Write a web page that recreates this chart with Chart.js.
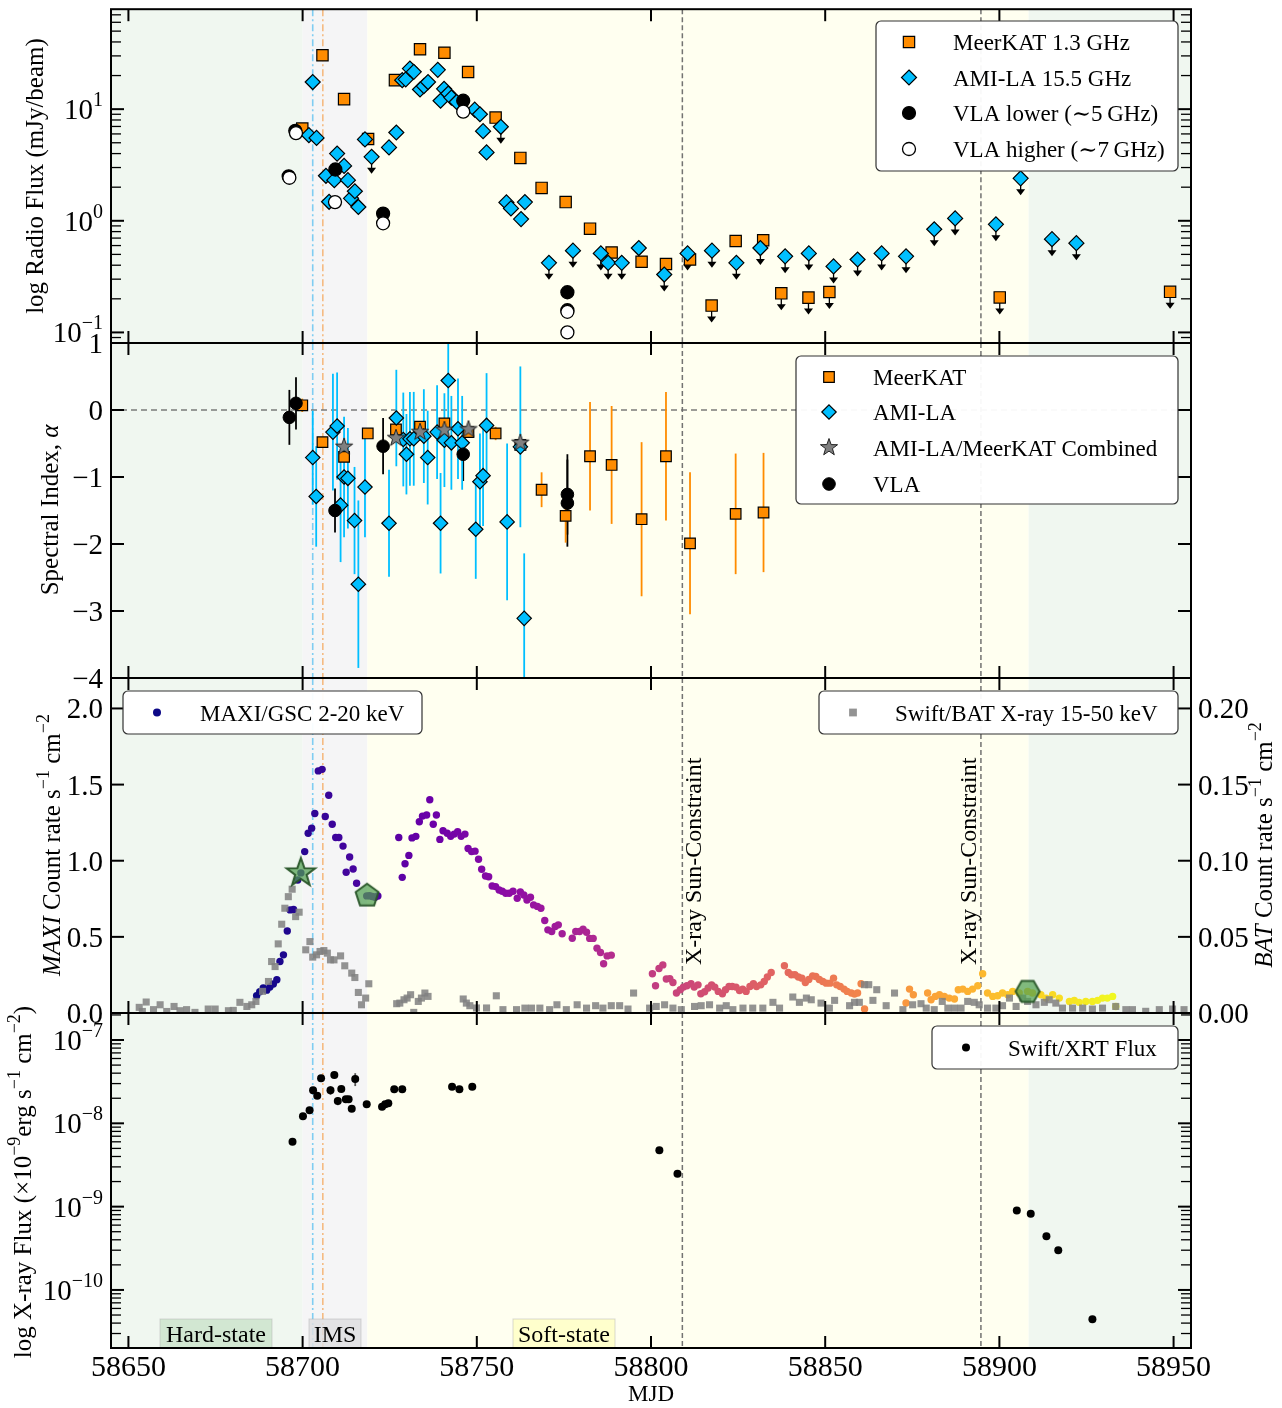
<!DOCTYPE html>
<html>
<head>
<meta charset="utf-8">
<script src="https://cdn.jsdelivr.net/npm/chart.js@4.4.1/dist/chart.umd.min.js"></script>
<style>
  body { margin: 0; background: #fff; }
  #wrap { position: relative; width: 1282px; height: 1408px; }
  #wrap canvas { position: absolute; left: 0; top: 0; }
</style>
</head>
<body>
<div id="wrap">
  <canvas id="p1" width="1282" height="1408"></canvas>
  <canvas id="p2" width="1282" height="1408"></canvas>
  <canvas id="p3" width="1282" height="1408"></canvas>
  <canvas id="p4" width="1282" height="1408"></canvas>
</div>
<script>
// ---------------- data ----------------
const X_MIN = 58645, X_MAX = 58955;
const xTicks = [58650, 58700, 58750, 58800, 58850, 58900, 58950];

// spectral state boundaries and marker lines (MJD)
const hardEnd = 58700, imsEnd = 58718.6, softEnd = 58908.4;
const blueLine = 58702.9, orangeLine = 58705.8;
const sunLines = [58809.0, 58894.7];

// panel 1: radio flux density, mJy/beam  [MJD, flux, upper limit?]
const meerkatFlux = [
  [58699.9, 6.7, 0], [58705.7, 30.4, 0], [58711.9, 12.3, 0], [58718.8, 5.4, 0], [58726.5, 18.2, 0],
  [58733.7, 34.4, 0], [58740.7, 32.0, 0], [58747.5, 21.5, 0], [58755.4, 8.4, 0], [58762.5, 3.66, 0],
  [58768.6, 1.97, 0], [58775.5, 1.47, 0], [58782.5, 0.85, 0], [58788.7, 0.52, 0], [58797.3, 0.43, 0],
  [58804.3, 0.41, 0], [58811.2, 0.45, 0], [58817.4, 0.174, 1], [58824.3, 0.66, 0], [58832.2, 0.67, 0],
  [58837.4, 0.224, 1], [58845.2, 0.205, 1], [58851.2, 0.23, 1], [58900.1, 0.206, 1], [58949.0, 0.231, 1]
];
const amiFlux = [
  [58701.8, 5.85, 0], [58702.9, 17.5, 0], [58704.0, 5.53, 0], [58706.7, 2.53, 0], [58707.6, 1.48, 0],
  [58709.1, 2.31, 0], [58709.9, 4.0, 0], [58711.9, 3.1, 0], [58713.0, 2.31, 0], [58713.9, 1.59, 0],
  [58715.0, 1.84, 0], [58716.0, 1.33, 0], [58717.9, 5.36, 0], [58719.8, 3.74, 1], [58724.8, 4.54, 0],
  [58726.9, 6.18, 0], [58728.6, 18.2, 0], [58729.6, 18.5, 0], [58730.8, 23.1, 0], [58731.9, 21.6, 0],
  [58733.7, 15.0, 0], [58734.8, 16.1, 0], [58736.0, 17.5, 0], [58738.8, 22.5, 0], [58739.6, 11.9, 0],
  [58740.6, 15.2, 0], [58741.8, 13.8, 0], [58742.7, 12.7, 0], [58744.2, 11.6, 0], [58749.4, 9.9, 0],
  [58750.9, 9.0, 0], [58751.8, 6.35, 0], [58752.8, 4.1, 0], [58756.9, 6.95, 1], [58758.5, 1.46, 0],
  [58759.8, 1.29, 0], [58762.7, 1.035, 0], [58763.8, 1.47, 0], [58770.7, 0.42, 1], [58777.6, 0.54, 1],
  [58785.6, 0.51, 1], [58787.7, 0.42, 1], [58791.6, 0.42, 1], [58796.5, 0.57, 0], [58803.8, 0.33, 1],
  [58810.5, 0.51, 1], [58817.5, 0.54, 1], [58824.5, 0.42, 1], [58831.4, 0.57, 1], [58838.5, 0.48, 1],
  [58845.3, 0.51, 1], [58852.4, 0.39, 1], [58859.3, 0.45, 1], [58866.2, 0.51, 1], [58873.2, 0.48, 1],
  [58881.3, 0.84, 1], [58887.3, 1.05, 1], [58899.0, 0.93, 1], [58906.1, 2.4, 1], [58915.1, 0.685, 1],
  [58922.1, 0.63, 1]
];
const vlaLowFlux = [
  [58696.0, 2.5], [58697.9, 6.4], [58709.4, 2.88], [58723.1, 1.16], [58746.1, 11.9], [58776.0, 0.229], [58776.0, 0.158]
];
const vlaHighFlux = [
  [58696.2, 2.43], [58698.1, 6.1], [58709.3, 1.47], [58723.1, 0.95], [58746.1, 9.5], [58776.0, 0.153], [58776.0, 0.10]
];
const radioTicks = [0.1, 1, 10];

// panel 2: spectral index  [MJD, alpha, error]
const meerkatAlpha = [
  [58699.9, 0.07, 0.1], [58705.7, -0.48, 0.05], [58711.9, -0.70, 0.06], [58718.7, -0.35, 0.05],
  [58726.8, -0.29, 0.1], [58733.7, -0.25, 0.07], [58740.7, -0.20, 0.08], [58747.6, -0.33, 0.08],
  [58755.4, -0.35, 0.1], [58762.5, -0.52, 0.1], [58768.6, -1.19, 0.26], [58775.5, -1.58, 0.4],
  [58782.5, -0.69, 0.81], [58788.7, -0.82, 0.88], [58797.3, -1.63, 1.15], [58804.3, -0.69, 0.96],
  [58811.2, -1.99, 1.06], [58824.3, -1.55, 0.9], [58832.3, -1.53, 0.89]
];
const amiAlpha = [
  [58702.9, -0.71, 0.7], [58703.9, -1.29, 0.75], [58708.7, -0.33, 0.87], [58709.9, -0.24, 0.8],
  [58710.9, -1.42, 0.85], [58711.9, -1.0, 0.9], [58713.0, -1.02, 0.75], [58714.9, -1.65, 0.8],
  [58716.0, -2.6, 1.25], [58717.9, -1.15, 0.75], [58724.8, -1.69, 0.8], [58726.9, -0.12, 0.72],
  [58728.9, -0.44, 0.7], [58729.8, -0.66, 0.6], [58730.8, -0.43, 0.7], [58731.9, -0.43, 0.7],
  [58734.8, -0.39, 0.7], [58735.9, -0.71, 0.7], [58738.6, -0.33, 0.7], [58739.6, -1.69, 0.75],
  [58740.7, -0.45, 0.7], [58741.8, 0.44, 0.8], [58742.7, -0.49, 0.7], [58744.6, -0.28, 0.75],
  [58745.8, -0.49, 0.7], [58749.7, -1.78, 0.74], [58750.9, -1.07, 0.72], [58751.8, -0.98, 0.75],
  [58752.8, -0.23, 0.78], [58758.7, -1.67, 1.17], [58762.5, -0.55, 1.2], [58763.6, -3.11, 0.97]
];
const comboAlpha = [
  [58711.9, -0.55], [58726.8, -0.42], [58733.7, -0.33], [58740.7, -0.30], [58747.6, -0.29], [58762.5, -0.49]
];
const vlaAlpha = [
  [58696.2, -0.11, 0.41], [58698.1, 0.10, 0.39], [58709.3, -1.50, 0.33], [58723.1, -0.54, 0.42],
  [58746.1, -0.66, 0.40], [58776.0, -1.26, 0.6], [58776.0, -1.39, 0.65]
];
const alphaTicks = [-4, -3, -2, -1, 0, 1];

// panel 3: MAXI/GSC count rate [MJD, rate] and Swift/BAT rate [MJD, rate]
const maxiRate = [
  [58686.8, 0.113], [58687.7, 0.14], [58688.7, 0.164], [58689.7, 0.15], [58690.6, 0.17], [58691.6, 0.19],
  [58692.6, 0.218], [58693.5, 0.338], [58694.5, 0.382], [58695.6, 0.539], [58696.4, 0.677], [58697.4, 0.68],
  [58698.6, 0.873], [58699.5, 0.92], [58700.6, 1.06], [58701.6, 1.18], [58702.6, 1.214], [58703.5, 1.31],
  [58704.5, 1.59], [58705.6, 1.60], [58706.5, 1.29], [58707.5, 1.43], [58708.5, 1.24], [58709.5, 1.153],
  [58710.4, 1.153], [58711.6, 1.096], [58712.5, 0.924], [58713.5, 1.024], [58714.5, 0.946], [58715.5, 0.852],
  [58718.4, 0.769], [58719.2, 0.77], [58720.0, 0.765], [58720.8, 0.76], [58721.6, 0.768],
  [58727.6, 1.153], [58728.6, 0.891], [58729.4, 0.98], [58730.5, 1.035], [58731.4, 1.15], [58732.5, 1.16],
  [58733.5, 1.256], [58734.4, 1.293], [58735.6, 1.30], [58736.5, 1.40], [58737.5, 1.24], [58738.4, 1.30],
  [58739.4, 1.14], [58740.3, 1.197], [58741.5, 1.18], [58742.5, 1.16], [58743.5, 1.175], [58744.5, 1.19],
  [58745.5, 1.16], [58746.6, 1.175], [58747.5, 1.08], [58748.5, 1.06], [58749.5, 1.063], [58750.5, 1.01],
  [58751.4, 0.944], [58752.5, 0.90], [58753.4, 0.895], [58754.4, 0.834], [58755.4, 0.83], [58756.4, 0.808],
  [58757.3, 0.80], [58758.3, 0.786], [58759.3, 0.786], [58760.4, 0.80], [58761.6, 0.754], [58762.5, 0.795],
  [58763.5, 0.775], [58764.4, 0.742], [58765.4, 0.76], [58766.3, 0.71], [58767.4, 0.70], [58768.4, 0.688],
  [58769.5, 0.607], [58770.4, 0.546], [58771.5, 0.535], [58772.5, 0.568], [58773.4, 0.579], [58774.5, 0.52],
  [58777.4, 0.491], [58778.4, 0.535], [58779.5, 0.535], [58780.5, 0.55], [58781.5, 0.53], [58782.4, 0.49],
  [58783.4, 0.49], [58784.5, 0.426], [58785.5, 0.397], [58786.4, 0.323], [58787.4, 0.375], [58788.6, 0.38],
  [58800.4, 0.258], [58801.3, 0.179], [58802.3, 0.292], [58803.4, 0.316], [58804.4, 0.223], [58805.4, 0.226],
  [58806.3, 0.20], [58807.3, 0.131], [58808.4, 0.153], [58809.3, 0.17], [58810.3, 0.179], [58811.5, 0.192],
  [58812.4, 0.17], [58813.5, 0.185], [58814.3, 0.126], [58815.4, 0.14], [58816.4, 0.164], [58817.4, 0.185],
  [58818.3, 0.17], [58819.3, 0.142], [58820.5, 0.126], [58821.4, 0.153], [58822.4, 0.174], [58823.3, 0.174],
  [58824.4, 0.17], [58825.4, 0.148], [58826.3, 0.157], [58827.3, 0.142], [58828.4, 0.174], [58829.4, 0.192],
  [58830.3, 0.174], [58831.5, 0.185], [58832.5, 0.207], [58833.4, 0.236], [58834.5, 0.266],
  [58838.3, 0.31], [58839.4, 0.266], [58840.3, 0.251], [58841.3, 0.251], [58842.3, 0.236], [58843.3, 0.229],
  [58844.3, 0.20], [58845.3, 0.22], [58846.4, 0.244], [58847.3, 0.24], [58848.3, 0.22], [58849.3, 0.207],
  [58850.3, 0.196], [58851.4, 0.196], [58852.4, 0.229], [58853.3, 0.185], [58854.3, 0.174], [58855.4, 0.157],
  [58856.3, 0.142], [58857.5, 0.131], [58858.4, 0.124], [58859.3, 0.131], [58860.3, 0.192], [58861.3, 0.026],
  [58873.2, 0.066], [58874.2, 0.157], [58875.3, 0.12], [58879.4, 0.131], [58880.4, 0.087], [58881.6, 0.109],
  [58882.8, 0.12], [58884.2, 0.109], [58885.6, 0.098], [58887.1, 0.092], [58888.2, 0.153], [58889.5, 0.157],
  [58890.9, 0.142], [58892.3, 0.157], [58893.8, 0.179], [58895.2, 0.258], [58896.6, 0.131], [58898.1, 0.109],
  [58899.5, 0.113], [58900.9, 0.131], [58902.4, 0.12], [58903.8, 0.142], [58905.7, 0.131], [58908.1, 0.142],
  [58909.5, 0.131], [58911.9, 0.12], [58913.4, 0.098], [58915.3, 0.12], [58917.2, 0.098], [58920.1, 0.076],
  [58921.5, 0.083], [58922.9, 0.07], [58924.8, 0.076], [58926.7, 0.076], [58928.2, 0.083], [58929.6, 0.098],
  [58931.0, 0.098], [58932.5, 0.109], [58933.4, 0.043]
];
const batRate = [
  [58653.1, 0.0037], [58654.0, 0.001], [58655.1, 0.0072], [58657.2, 0.0022], [58659.1, 0.0054], [58661.0, 0.001],
  [58663.1, 0.0043], [58664.8, 0.0015], [58666.7, 0.0022], [58669.1, 0.0004], [58672.9, 0.0026], [58674.9, 0.0026],
  [58678.7, 0.0015], [58680.1, 0.0017], [58682.0, 0.007], [58684.0, 0.0043], [58685.4, 0.0054], [58686.6, 0.0076],
  [58688.5, 0.0142], [58690.2, 0.0207], [58691.1, 0.0338], [58692.1, 0.0305], [58693.0, 0.0454], [58694.0, 0.0583],
  [58694.9, 0.0688], [58695.9, 0.0764], [58697.0, 0.0813], [58698.0, 0.0633], [58699.0, 0.0662], [58700.9, 0.0415],
  [58702.1, 0.0469], [58702.9, 0.0367], [58704.0, 0.0382], [58705.0, 0.0404], [58706.1, 0.041], [58707.1, 0.0393],
  [58708.0, 0.0349], [58709.0, 0.0349], [58710.9, 0.0375], [58712.1, 0.031], [58714.1, 0.0262], [58715.0, 0.0233],
  [58716.0, 0.0135], [58716.9, 0.0054], [58718.1, 0.0098], [58719.0, 0.0192], [58727.0, 0.0061], [58727.9, 0.0065],
  [58729.1, 0.0087], [58730.0, 0.0098], [58731.0, 0.012], [58731.9, 0.0004], [58733.2, 0.0076], [58734.1, 0.0098],
  [58735.1, 0.0131], [58736.0, 0.0109], [58746.1, 0.0092], [58747.0, 0.0065], [58748.0, 0.0048], [58749.9, 0.0033],
  [58752.8, 0.0033], [58755.6, 0.0113], [58757.5, 0.0022], [58761.4, 0.0022], [58763.8, 0.0032], [58765.7, 0.0032],
  [58768.1, 0.0032], [58770.9, 0.0022], [58773.0, 0.0054], [58775.7, 0.0022], [58778.8, 0.0054], [58781.5, 0.0032],
  [58784.1, 0.0048], [58786.2, 0.0032], [58788.6, 0.0048], [58791.0, 0.0048], [58793.4, 0.0026], [58795.0, 0.0131],
  [58799.6, 0.0032], [58801.5, 0.0043], [58803.9, 0.0054], [58806.3, 0.0032], [58808.7, 0.0022], [58812.5, 0.0043],
  [58814.4, 0.0048], [58816.8, 0.0054], [58819.7, 0.0032], [58821.6, 0.0048], [58823.5, 0.0022], [58826.4, 0.0032],
  [58829.2, 0.0032], [58832.1, 0.0032], [58835.0, 0.007], [58836.9, 0.0032], [58840.7, 0.0105], [58842.6, 0.007],
  [58844.6, 0.0098], [58846.0, 0.0087], [58848.8, 0.0065], [58851.2, 0.0032], [58852.7, 0.0083], [58857.0, 0.0048],
  [58858.4, 0.007], [58859.8, 0.007], [58861.3, 0.0186], [58862.5, 0.0186], [58863.7, 0.0083], [58864.8, 0.0153],
  [58867.5, 0.0048], [58869.9, 0.0131], [58872.3, 0.0022], [58875.1, 0.0054], [58877.5, 0.0061], [58879.0, 0.0032],
  [58881.3, 0.0022], [58883.6, 0.0076], [58885.2, 0.0032], [58887.1, 0.0032], [58889.0, 0.0032], [58890.9, 0.0076],
  [58892.8, 0.007], [58894.2, 0.0054], [58896.6, 0.0032], [58899.0, 0.0032], [58900.9, 0.0048], [58902.9, 0.0098],
  [58904.8, 0.0043], [58906.7, 0.0098], [58908.1, 0.0076], [58910.5, 0.0054], [58912.9, 0.007], [58914.3, 0.0087],
  [58916.2, 0.0065], [58918.1, 0.0032], [58921.0, 0.0032], [58923.9, 0.0032], [58926.7, 0.0026], [58929.6, 0.0032],
  [58933.4, 0.0043], [58936.3, 0.0022], [58938.2, 0.0022], [58942.0, 0.0011], [58945.9, 0.0022], [58949.7, 0.0026],
  [58953.0, 0.0022]
];
// state-transition markers on the MAXI curve [MJD, rate, shape]
const transitionMarks = [[58699.5, 0.92, 'star'], [58718.5, 0.77, 'pentagon'], [58908.1, 0.142, 'hexagon']];
const maxiTicks = [0, 0.5, 1.0, 1.5, 2.0];
const batTicks = [0, 0.05, 0.10, 0.15, 0.20];

// panel 4: Swift/XRT flux [MJD, flux, error]
const xrtFlux = [
  [58697.1, 6.0e-9, 0], [58700.1, 1.22e-8, 0], [58702.0, 1.44e-8, 0], [58703.0, 2.5e-8, 0.2e-8],
  [58704.2, 2.15e-8, 0], [58705.3, 3.47e-8, 0], [58708.0, 2.5e-8, 0.3e-8], [58709.1, 3.8e-8, 0.3e-8],
  [58710.1, 1.85e-8, 0.2e-8], [58711.1, 2.58e-8, 0], [58712.4, 1.94e-8, 0], [58713.2, 1.94e-8, 0],
  [58714.1, 1.5e-8, 0], [58715.1, 3.4e-8, 0.6e-8], [58718.4, 1.69e-8, 0], [58722.8, 1.58e-8, 0],
  [58723.7, 1.69e-8, 0], [58724.6, 1.74e-8, 0], [58726.3, 2.56e-8, 0], [58728.6, 2.56e-8, 0],
  [58742.9, 2.75e-8, 0], [58745.0, 2.56e-8, 0], [58748.7, 2.75e-8, 0], [58802.4, 4.74e-9, 0],
  [58807.6, 2.49e-9, 0], [58905.0, 9.0e-10, 0], [58909.0, 8.2e-10, 0], [58913.5, 4.4e-10, 0],
  [58916.9, 3.0e-10, 0], [58926.7, 4.45e-11, 0]
];
const xrtTicks = [1e-10, 1e-9, 1e-8, 1e-7];

// ---------------- helpers ----------------
const FONT = '"Liberation Serif", "DejaVu Serif", serif';
const ORANGE = '#ff8c00', CYAN = '#00bfff';

function hexRgb(h) { return [1, 3, 5].map(i => parseInt(h.slice(i, i + 2), 16)); }
function plasma(t) {
  const stops = ['#0d0887', '#41049d', '#6a00a8', '#8f0da4', '#b12a90', '#cc4778',
                 '#e16462', '#f2844b', '#fca636', '#fcce25', '#f0f921'];
  t = Math.min(1, Math.max(0, t)) * 10;
  const i = Math.min(9, Math.floor(t)), f = t - i;
  const a = hexRgb(stops[i]), b = hexRgb(stops[i + 1]);
  return `rgb(${a.map((v, k) => Math.round(v + (b[k] - v) * f)).join(',')})`;
}

function markerPath(ctx, style, x, y, r) {
  ctx.beginPath();
  if (style === 'circle') ctx.arc(x, y, r, 0, Math.PI * 2);
  else if (style === 'rect') { const s = r * Math.SQRT1_2; ctx.rect(x - s, y - s, 2 * s, 2 * s); }
  else if (style === 'rectRot') { ctx.moveTo(x, y - r); ctx.lineTo(x + r, y); ctx.lineTo(x, y + r); ctx.lineTo(x - r, y); ctx.closePath(); }
  else {
    const n = style === 'star' ? 10 : style === 'pentagon' ? 5 : 6;
    const rot = style === 'hexagon' ? 0 : -Math.PI / 2;
    for (let k = 0; k < n; k++) {
      const ang = rot + k * 2 * Math.PI / n;
      const rr = (style === 'star' && k % 2) ? r * 0.4 : r;
      const px = x + rr * Math.cos(ang), py = y + rr * Math.sin(ang);
      if (k) ctx.lineTo(px, py); else ctx.moveTo(px, py);
    }
    ctx.closePath();
  }
}
function drawMarker(ctx, style, x, y, r, fill, stroke, lw) {
  markerPath(ctx, style, x, y, r);
  if (fill) { ctx.fillStyle = fill; ctx.fill(); }
  if (stroke && lw) { ctx.lineWidth = lw; ctx.strokeStyle = stroke; ctx.lineJoin = 'miter'; ctx.stroke(); }
}
function markerImage(style, r, fill, stroke, lw) {
  const c = document.createElement('canvas');
  const s = Math.ceil(2 * r + 2 * lw + 4);
  c.width = c.height = s;
  drawMarker(c.getContext('2d'), style, s / 2, s / 2, r, fill, stroke, lw);
  return c;
}

function fontFor(p, size) {
  const s = p.sup ? Math.round(size * 0.7) : size;
  return (p.it ? 'italic ' : '') + s + 'px ' + FONT;
}
function drawRich(ctx, parts, x, y, size, align) {
  let w = 0;
  parts.forEach(p => { ctx.font = fontFor(p, size); w += ctx.measureText(p.t).width; });
  let cx = align === 'center' ? x - w / 2 : align === 'right' ? x - w : x;
  ctx.textAlign = 'left';
  ctx.textBaseline = 'alphabetic';
  ctx.fillStyle = '#000';
  parts.forEach(p => {
    ctx.font = fontFor(p, size);
    ctx.fillText(p.t, cx, p.sup ? y - size * 0.45 : y);
    cx += ctx.measureText(p.t).width;
  });
}
function vTitle(ctx, parts, x, yc, size) {
  ctx.save();
  ctx.translate(x, yc);
  ctx.rotate(-Math.PI / 2);
  drawRich(ctx, parts, 0, 0, size, 'center');
  ctx.restore();
}
function line(ctx, x0, y0, x1, y1) { ctx.beginPath(); ctx.moveTo(x0, y0); ctx.lineTo(x1, y1); ctx.stroke(); }
function neg(v) { return v < 0 ? '\u2212' + Math.abs(v) : String(v); }

function drawStates(chart) {
  const { ctx, chartArea: a, scales: { x } } = chart;
  const bands = [[X_MIN, hardEnd, '#f0f7f0'], [hardEnd, imsEnd, '#f5f5f6'], [imsEnd, softEnd, '#fffff0'], [softEnd, X_MAX, '#f0f7f0']];
  ctx.save();
  bands.forEach(([b0, b1, c]) => {
    const p0 = x.getPixelForValue(b0), p1 = x.getPixelForValue(b1);
    ctx.fillStyle = c;
    ctx.fillRect(p0, a.top, p1 - p0, a.bottom - a.top);
  });
  ctx.lineWidth = 1.6;
  ctx.setLineDash([7, 3, 2, 3]);
  ctx.strokeStyle = '#7fcdf2';
  line(ctx, x.getPixelForValue(blueLine), a.top, x.getPixelForValue(blueLine), a.bottom);
  ctx.strokeStyle = '#f5bb82';
  line(ctx, x.getPixelForValue(orangeLine), a.top, x.getPixelForValue(orangeLine), a.bottom);
  ctx.setLineDash([5, 3]);
  ctx.lineWidth = 1.5;
  ctx.strokeStyle = 'rgba(100,100,100,0.9)';
  sunLines.forEach(m => line(ctx, x.getPixelForValue(m), a.top, x.getPixelForValue(m), a.bottom));
  ctx.restore();
}

function drawErrorBars(chart) {
  const { ctx, chartArea: a } = chart;
  ctx.save();
  ctx.beginPath(); ctx.rect(a.left, a.top, a.right - a.left, a.bottom - a.top); ctx.clip();
  chart.data.datasets.forEach((ds, i) => {
    if (!ds.errs) return;
    const meta = chart.getDatasetMeta(i);
    ctx.strokeStyle = ds.errColor;
    ctx.lineWidth = 1.8;
    ds.errs.forEach((e, j) => {
      if (!e) return;
      const v = ds.data[j].y, px = meta.data[j].x;
      line(ctx, px, meta.yScale.getPixelForValue(v - e), px, meta.yScale.getPixelForValue(v + e));
    });
  });
  ctx.restore();
}

function drawUpperLimits(chart) {
  const ctx = chart.ctx;
  ctx.save();
  chart.data.datasets.forEach((ds, i) => {
    if (!ds.ul) return;
    const meta = chart.getDatasetMeta(i);
    ctx.strokeStyle = '#000';
    ctx.fillStyle = '#000';
    ctx.lineWidth = 1.3;
    ds.ul.forEach((u, j) => {
      if (!u) return;
      const { x, y } = meta.data[j];
      line(ctx, x, y, x, y + 12);
      ctx.beginPath();
      ctx.moveTo(x - 4.5, y + 11); ctx.lineTo(x + 4.5, y + 11); ctx.lineTo(x, y + 17); ctx.closePath();
      ctx.fill();
    });
  });
  ctx.restore();
}

function drawFrame(chart, yScale, yTicks, logMinor) {
  const { ctx, chartArea: a, scales: { x } } = chart;
  ctx.save();
  ctx.strokeStyle = '#000';
  ctx.lineWidth = 2;
  xTicks.forEach(t => {
    const px = x.getPixelForValue(t);
    line(ctx, px, a.bottom, px, a.bottom - 12);
    line(ctx, px, a.top, px, a.top + 12);
  });
  yTicks.forEach(t => {
    const py = yScale.getPixelForValue(t);
    line(ctx, a.left, py, a.left + 13, py);
    line(ctx, a.right, py, a.right - 13, py);
  });
  if (logMinor) {
    ctx.lineWidth = 1.3;
    for (let e = Math.floor(Math.log10(yScale.min)); e <= Math.ceil(Math.log10(yScale.max)); e++) {
      for (let k = 2; k <= 9; k++) {
        const v = k * Math.pow(10, e);
        if (v < yScale.min || v > yScale.max) continue;
        const py = yScale.getPixelForValue(v);
        line(ctx, a.left, py, a.left + 10, py);
        line(ctx, a.right, py, a.right - 10, py);
      }
    }
  }
  ctx.lineWidth = 2;
  ctx.strokeRect(a.left, a.top, a.right - a.left, a.bottom - a.top);
  ctx.restore();
}

function drawLogLabels(ctx, scale, ticks) {
  ticks.forEach(t => {
    const py = scale.getPixelForValue(t);
    drawRich(ctx, [{ t: '10' }, { t: neg(Math.round(Math.log10(t))), sup: true }], 103, py + 10, 29, 'right');
  });
}

function roundRect(ctx, x, y, w, h, r) {
  ctx.beginPath();
  ctx.moveTo(x + r, y); ctx.arcTo(x + w, y, x + w, y + h, r); ctx.arcTo(x + w, y + h, x, y + h, r);
  ctx.arcTo(x, y + h, x, y, r); ctx.arcTo(x, y, x + w, y, r); ctx.closePath();
}
function drawLegend(ctx, box, markerX, textX, rows) {
  ctx.save();
  roundRect(ctx, box[0], box[1], box[2] - box[0], box[3] - box[1], 5);
  ctx.fillStyle = 'rgba(255,255,255,0.95)';
  ctx.fill();
  ctx.lineWidth = 1.2;
  ctx.strokeStyle = '#333';
  ctx.stroke();
  rows.forEach(r => {
    drawMarker(ctx, r.style, markerX, r.y, r.size, r.fill, r.stroke, r.lw);
    drawRich(ctx, [{ t: r.text }], textX, r.y + 8, 23, 'left');
  });
  ctx.restore();
}

function makeChart(id, top, bottom, scales, datasets, hooks) {
  return new Chart(document.getElementById(id), {
    type: 'scatter',
    data: { datasets },
    options: {
      responsive: false,
      animation: false,
      events: [],
      layout: { padding: { left: 111, right: 91, top: top, bottom: 1408 - bottom } },
      plugins: { legend: { display: false }, tooltip: { enabled: false } },
      scales: Object.assign({ x: { type: 'linear', min: X_MIN, max: X_MAX, display: false, bounds: 'data' } }, scales)
    },
    plugins: [{
      id: 'panel_' + id,
      beforeDatasetsDraw(chart) {
        drawStates(chart);
        if (hooks.under) hooks.under(chart);
        drawErrorBars(chart);
        drawUpperLimits(chart);
      },
      afterDatasetsDraw(chart) { hooks.over(chart); }
    }]
  });
}

function pts(rows) { return rows.map(r => ({ x: r[0], y: r[1] })); }

// ---------------- panel 1: radio flux ----------------
makeChart('p1', 9, 343,
  { y: { type: 'logarithmic', min: 0.0804, max: 78.6, display: false, bounds: 'data' } },
  [
    { label: 'VLA higher', data: pts(vlaHighFlux), order: 1, pointStyle: 'circle', pointRadius: 6.5,
      pointBackgroundColor: '#fff', pointBorderColor: '#000', pointBorderWidth: 1.3 },
    { label: 'VLA lower', data: pts(vlaLowFlux), order: 2, pointStyle: 'circle', pointRadius: 6.5,
      pointBackgroundColor: '#000', pointBorderColor: '#000', pointBorderWidth: 1.3 },
    { label: 'AMI-LA', data: pts(amiFlux), order: 3, pointStyle: 'rectRot', pointRadius: 7.5,
      pointBackgroundColor: CYAN, pointBorderColor: '#000', pointBorderWidth: 1.2, ul: amiFlux.map(r => r[2]) },
    { label: 'MeerKAT', data: pts(meerkatFlux), order: 4, pointStyle: 'rect', pointRadius: 8,
      pointBackgroundColor: ORANGE, pointBorderColor: '#000', pointBorderWidth: 1.2, ul: meerkatFlux.map(r => r[2]) }
  ],
  {
    over(chart) {
      const ctx = chart.ctx, y = chart.scales.y;
      drawFrame(chart, y, radioTicks, true);
      drawLogLabels(ctx, y, radioTicks);
      vTitle(ctx, [{ t: 'log Radio Flux (mJy/beam)' }], 43, 176, 25);
      drawLegend(ctx, [876, 21, 1178, 171], 909, 953, [
        { y: 42, style: 'rect', size: 8, fill: ORANGE, stroke: '#000', lw: 1.2, text: 'MeerKAT 1.3 GHz' },
        { y: 77.5, style: 'rectRot', size: 7.5, fill: CYAN, stroke: '#000', lw: 1.2, text: 'AMI-LA 15.5 GHz' },
        { y: 113, style: 'circle', size: 6.5, fill: '#000', stroke: '#000', lw: 1.2, text: 'VLA lower (\u223C5\u2009GHz)' },
        { y: 149, style: 'circle', size: 6.5, fill: '#fff', stroke: '#000', lw: 1.3, text: 'VLA higher (\u223C7\u2009GHz)' }
      ]);
    }
  });

// ---------------- panel 2: spectral index ----------------
const comboStar = markerImage('star', 9, '#808080', '#222', 1);
makeChart('p2', 343, 678,
  { y: { type: 'linear', min: -4, max: 1, display: false, bounds: 'data' } },
  [
    { label: 'VLA', data: pts(vlaAlpha), order: 1, pointStyle: 'circle', pointRadius: 6.3,
      pointBackgroundColor: '#000', pointBorderColor: '#000', pointBorderWidth: 1, errs: vlaAlpha.map(r => r[2]), errColor: '#000' },
    { label: 'Combined', data: pts(comboAlpha), order: 2, pointStyle: comboStar, pointRadius: 9 },
    { label: 'AMI-LA', data: pts(amiAlpha), order: 3, pointStyle: 'rectRot', pointRadius: 7.2,
      pointBackgroundColor: CYAN, pointBorderColor: '#000', pointBorderWidth: 1.2, errs: amiAlpha.map(r => r[2]), errColor: CYAN },
    { label: 'MeerKAT', data: pts(meerkatAlpha), order: 4, pointStyle: 'rect', pointRadius: 7.5,
      pointBackgroundColor: ORANGE, pointBorderColor: '#000', pointBorderWidth: 1.2, errs: meerkatAlpha.map(r => r[2]), errColor: ORANGE }
  ],
  {
    under(chart) {
      const { ctx, chartArea: a, scales: { y } } = chart;
      ctx.save();
      ctx.strokeStyle = 'rgba(110,110,110,0.9)';
      ctx.lineWidth = 1.5;
      ctx.setLineDash([6, 4]);
      line(ctx, a.left, y.getPixelForValue(0), a.right, y.getPixelForValue(0));
      ctx.restore();
    },
    over(chart) {
      const ctx = chart.ctx, y = chart.scales.y;
      drawFrame(chart, y, alphaTicks, false);
      alphaTicks.forEach(t => drawRich(ctx, [{ t: neg(t) }], 103, y.getPixelForValue(t) + 10, 29, 'right'));
      vTitle(ctx, [{ t: 'Spectral Index, ' }, { t: '\u03B1', it: true }], 58, 510, 25);
      drawLegend(ctx, [796, 356, 1178, 504], 829, 873, [
        { y: 377, style: 'rect', size: 7.5, fill: ORANGE, stroke: '#000', lw: 1.2, text: 'MeerKAT' },
        { y: 412, style: 'rectRot', size: 7.2, fill: CYAN, stroke: '#000', lw: 1.2, text: 'AMI-LA' },
        { y: 447.5, style: 'star', size: 9, fill: '#808080', stroke: '#222', lw: 1, text: 'AMI-LA/MeerKAT Combined' },
        { y: 484, style: 'circle', size: 6.3, fill: '#000', stroke: '#000', lw: 1, text: 'VLA' }
      ]);
    }
  });

// ---------------- panel 3: X-ray count rates ----------------
const mjd0 = maxiRate[0][0], mjd1 = maxiRate[maxiRate.length - 1][0];
const greenFill = 'rgba(80,160,80,0.72)', greenEdge = 'rgba(40,85,40,0.95)';
const transitionImgs = transitionMarks.map(m =>
  markerImage(m[2], m[2] === 'star' ? 15 : 12, greenFill, greenEdge, 2));
makeChart('p3', 678, 1013,
  {
    y: { type: 'linear', min: 0, max: 2.2, display: false, bounds: 'data' },
    y2: { type: 'linear', position: 'right', min: 0, max: 0.22, display: false, bounds: 'data' }
  },
  [
    { label: 'transitions', data: pts(transitionMarks), order: 1, pointStyle: transitionImgs, pointRadius: 12 },
    { label: 'Swift/BAT', data: pts(batRate), yAxisID: 'y2', order: 2, pointStyle: 'rect', pointRadius: 5,
      pointBackgroundColor: 'rgba(128,128,128,0.85)', pointBorderWidth: 0 },
    { label: 'MAXI/GSC', data: pts(maxiRate), order: 3, pointStyle: 'circle', pointRadius: 3.7, pointBorderWidth: 0,
      pointBackgroundColor: maxiRate.map(r => plasma((r[0] - mjd0) / (mjd1 - mjd0))) }
  ],
  {
    over(chart) {
      const ctx = chart.ctx, y = chart.scales.y, y2 = chart.scales.y2;
      drawFrame(chart, y, maxiTicks, false);
      maxiTicks.forEach(t => drawRich(ctx, [{ t: t.toFixed(1) }], 103, y.getPixelForValue(t) + 10, 29, 'right'));
      batTicks.forEach(t => drawRich(ctx, [{ t: t.toFixed(2) }], 1198, y2.getPixelForValue(t) + 10, 29, 'left'));
      vTitle(ctx, [{ t: 'MAXI', it: true }, { t: ' Count rate s' }, { t: '\u22121', sup: true }, { t: ' cm' }, { t: '\u22122', sup: true }], 60, 845, 25);
      vTitle(ctx, [{ t: 'BAT', it: true }, { t: ' Count rate s' }, { t: '\u22121', sup: true }, { t: ' cm' }, { t: '\u22122', sup: true }], 1272, 845, 25);
      // sun-constraint annotations
      [[701, 965], [976, 965]].forEach(([bx, by]) => {
        ctx.save();
        ctx.translate(bx, by);
        ctx.rotate(-Math.PI / 2);
        drawRich(ctx, [{ t: 'X-ray Sun-Constraint' }], 0, 0, 24, 'left');
        ctx.restore();
      });
      drawLegend(ctx, [123, 691, 422, 734], 157, 200, [
        { y: 712.5, style: 'circle', size: 4, fill: '#0d0887', text: 'MAXI/GSC 2-20 keV' }
      ]);
      drawLegend(ctx, [819, 691, 1178, 734], 853, 895, [
        { y: 712.5, style: 'rect', size: 5.5, fill: 'rgba(128,128,128,0.85)', text: 'Swift/BAT X-ray 15-50 keV' }
      ]);
    }
  });

// ---------------- panel 4: XRT flux ----------------
makeChart('p4', 1013, 1348,
  { y: { type: 'logarithmic', min: 2.01e-11, max: 2.11e-7, display: false, bounds: 'data' } },
  [
    { label: 'Swift/XRT', data: pts(xrtFlux), pointStyle: 'circle', pointRadius: 4,
      pointBackgroundColor: '#000', pointBorderWidth: 0, errs: xrtFlux.map(r => r[2]), errColor: '#555' }
  ],
  {
    over(chart) {
      const { ctx, chartArea: a, scales: { x, y } } = chart;
      // state labels
      [[160, 272, 'Hard-state', 'rgba(200,225,200,0.75)'], [309, 361, 'IMS', 'rgba(222,222,224,0.85)'],
       [513, 615, 'Soft-state', 'rgba(255,255,200,0.9)']].forEach(([l, r, t, c]) => {
        ctx.save();
        ctx.fillStyle = c;
        ctx.fillRect(l, 1319, r - l, 29);
        ctx.strokeStyle = 'rgba(180,180,180,0.5)';
        ctx.lineWidth = 1;
        ctx.strokeRect(l, 1319, r - l, 29);
        ctx.restore();
        drawRich(ctx, [{ t: t }], (l + r) / 2, 1342, 24, 'center');
      });
      drawFrame(chart, y, xrtTicks, true);
      drawLogLabels(ctx, y, xrtTicks);
      xTicks.forEach(t => drawRich(ctx, [{ t: String(t) }], x.getPixelForValue(t), 1376, 30, 'center'));
      drawRich(ctx, [{ t: 'MJD' }], (a.left + a.right) / 2, 1401, 23, 'center');
      vTitle(ctx, [{ t: 'log X-ray Flux (\u00D710' }, { t: '\u22129', sup: true }, { t: 'erg s' }, { t: '\u22121', sup: true },
                   { t: ' cm' }, { t: '\u22122', sup: true }, { t: ')' }], 31, 1182, 25);
      drawLegend(ctx, [932, 1026, 1178, 1069], 966, 1008, [
        { y: 1047.5, style: 'circle', size: 4, fill: '#000', text: 'Swift/XRT Flux' }
      ]);
    }
  });
</script>
</body>
</html>
